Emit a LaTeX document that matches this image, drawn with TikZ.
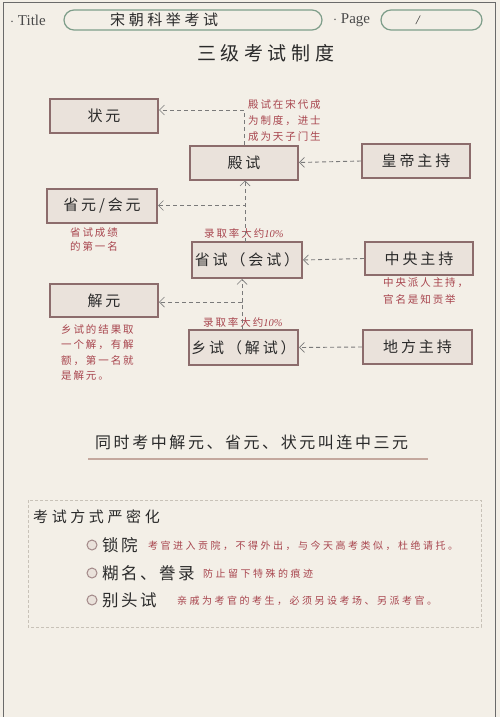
\documentclass[tikz,border=0pt]{standalone}
\usepackage{fontspec}
\setmainfont{Liberation Serif}
\newfontfamily\cjk{Noto Sans CJK SC}
\newfontfamily\cjkbox[LetterSpace=19]{Noto Sans CJK SC}
\newfontfamily\cjkhead[LetterSpace=24]{Noto Sans CJK SC}
\newfontfamily\cjknote[LetterSpace=18]{Noto Sans CJK SC}
\newfontfamily\cjkitem[LetterSpace=15]{Noto Sans CJK SC}
\newfontfamily\cjksmall[LetterSpace=25]{Noto Sans CJK SC}
\newfontfamily\cjksum[LetterSpace=16]{Noto Sans CJK SC}
\usetikzlibrary{arrows.meta}
\definecolor{bg}{HTML}{F3EFE7}
\definecolor{boxfill}{HTML}{EAE2DB}
\definecolor{boxline}{HTML}{8C6C6C}
\definecolor{note}{HTML}{A8454E}
\definecolor{arrgray}{HTML}{7A7A7A}
\definecolor{pill}{HTML}{7E9E8A}
\definecolor{uline}{HTML}{C4A89E}
\definecolor{dbox}{HTML}{C8C2B8}
\definecolor{ink}{HTML}{2A2A2A}
\definecolor{frame}{HTML}{6A6A6A}
\tikzset{
  stagebox/.style={draw=boxline, line width=2pt, fill=boxfill, minimum width=108pt, minimum height=34pt, inner sep=0pt, text=ink, font=\cjkbox\fontsize{15}{18}\selectfont},
  notetext/.style={text=note, font=\cjknote\fontsize{10.5}{16}\selectfont, align=left, inner sep=0pt},
  arr/.style={draw=arrgray, line width=0.9pt, dash pattern=on 4pt off 3pt, -{Straight Barb[length=5pt,width=10pt,line width=0.7pt]}},
  pillbox/.style={draw=pill, line width=1.2pt, rounded corners=10pt, minimum height=20pt, inner sep=0pt},
  hdr/.style={text=ink!85, font=\fontsize{15}{16}\selectfont, inner sep=0pt, anchor=west},
  bullet/.style={circle, draw=boxline!80, line width=1pt, fill=boxfill, minimum size=10pt, inner sep=0pt},
  itemtext/.style={text=ink, font=\cjkitem\fontsize{16.5}{18}\selectfont, inner sep=0pt, anchor=west},
  itemnote/.style={text=note, font=\cjksmall\fontsize{10}{12}\selectfont, inner sep=0pt, anchor=west}
}
\begin{document}
\begin{tikzpicture}[x=1pt,y=-1pt]
\useasboundingbox (0,0) rectangle (500,717);
\fill[bg] (0,0) rectangle (500,717);
\draw[frame, line width=1pt] (3,717) -- (3,3) -- (495,3) -- (495,717);
% header
\node[hdr] (titlelbl) at (10,20) {$\cdot$ Title};
\node[pillbox, minimum width=258pt] (titlepill) at (193,20) {};
\node[text=ink, font=\cjkhead\fontsize{15}{16}\selectfont, anchor=west, inner sep=0pt] (titletext) at (110,20) {宋朝科举考试};
\node[hdr] (pagelbl) at (333,20) {$\cdot$ Page};
\node[pillbox, minimum width=101pt] (pagepill) at (431.5,20) {};
\node[text=ink, font=\fontsize{13}{15}\selectfont\itshape, inner sep=0pt] (pagetext) at (418,20) {/};
\node[text=ink, font=\cjkhead\fontsize{19}{20}\selectfont, anchor=west, inner sep=0pt] (maintitle) at (197,53) {三级考试制度};
% stage boxes
\node[stagebox] (zhuangyuan) at (104,116) {状元\hspace{16pt}};
\node[stagebox] (dianshi) at (244,162.5) {殿试\hspace{5pt}};
\node[stagebox] (huangdi) at (416,161) {皇帝主持};
\node[stagebox, minimum width=110pt] (shengyuan) at (102,205.5) {省元/会元\hspace{6pt}};
\node[stagebox, minimum width=110pt, minimum height=36pt] (shengshi) at (247,260) {省试（会试）};
\node[stagebox, minimum height=33pt] (zhongyang) at (419,258.5) {中央主持};
\node[stagebox, minimum height=33pt] (jieyuan) at (104,300.5) {解元\hspace{14pt}};
\node[stagebox, minimum width=109pt, minimum height=35pt] (xiangshi) at (243.5,347.5) {乡试（解试）};
\node[stagebox, minimum width=109pt] (difang) at (417.5,347) {地方主持};
% notes
\node[notetext, anchor=north west] (note1) at (248,99) {殿试在宋代成\\为制度，进士\\成为天子门生};
\node[notetext, anchor=north west, font=\cjknote\fontsize{10.5}{14}\selectfont] (note2) at (70,227) {省试成绩\\的第一名};
\node[notetext, anchor=west] (note3) at (204,233.5) {录取率大约{\rmfamily\itshape 10\%}};
\node[notetext, anchor=north west, font=\cjknote\fontsize{10.5}{17}\selectfont] (note4) at (383,277) {中央派人主持，\\官名是知贡举};
\node[notetext, anchor=west] (note5) at (203,322.5) {录取率大约{\rmfamily\itshape 10\%}};
\node[notetext, anchor=north west, font=\cjknote\fontsize{10.5}{15.5}\selectfont] (note6) at (61,324) {乡试的结果取\\一个解，有解\\额，第一名就\\是解元。};
% connectors
\draw[arr] (dianshi.north) |- ([yshift=6pt]zhuangyuan.east);
\coordinate (c1) at (245,242);
\draw[arr] (c1) -- (dianshi.south -| c1);
\draw[arr] (c1) |- (shengyuan.east);
\coordinate (c2) at (242,330);
\draw[arr] (c2) -- (shengshi.south -| c2);
\draw[arr] (c2) |- ([yshift=-1.5pt]jieyuan.east);
\draw[arr] (huangdi.west) -- (dianshi.east);
\draw[arr] (zhongyang.west) -- (shengshi.east);
\draw[arr] (difang.west) -- (xiangshi.east);
% summary line
\node[text=ink, font=\cjksum\fontsize{16}{18}\selectfont, inner sep=0pt, anchor=west] (summary) at (95,442) {同时考中解元、省元、状元叫连中三元};
\draw[uline, line width=2pt] (88,459) -- (428,459);
% bottom box
\draw[dbox, line width=0.8pt, dash pattern=on 3pt off 2pt] (28,500) rectangle (481,627);
\node[text=ink, font=\cjkhead\fontsize{15}{16}\selectfont, anchor=west, inner sep=0pt] (methods) at (33,517) {考试方式严密化};
\node[bullet] (b1) at (92,545) {};
\node[itemtext] (i1) at (102,545) {锁院};
\node[itemnote] (n1) at (148,546) {考官进入贡院，不得外出，与今天高考类似，杜绝请托。};
\node[bullet] (b2) at (92,573) {};
\node[itemtext] (i2) at (102,573) {糊名、誊录};
\node[itemnote] (n2) at (203,574) {防止留下特殊的痕迹};
\node[bullet] (b3) at (92,600) {};
\node[itemtext] (i3) at (102,600) {别头试};
\node[itemnote] (n3) at (177,601) {亲戚为考官的考生，必须另设考场、另派考官。};
\end{tikzpicture}
\end{document}
